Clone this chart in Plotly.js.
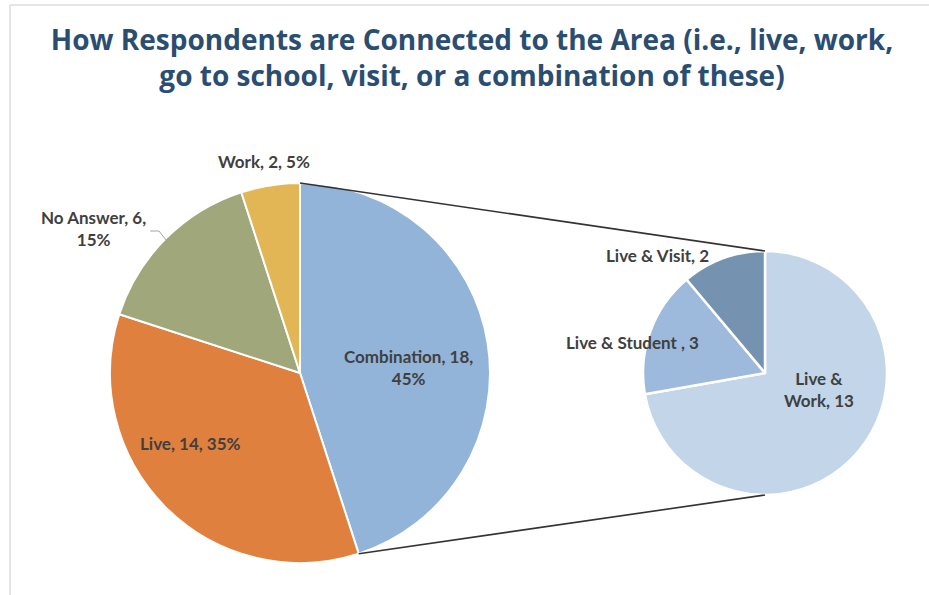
<!DOCTYPE html>
<html>
<head>
<meta charset="utf-8">
<script src="https://cdn.plot.ly/plotly-3.0.1.min.js"></script>
<style>
  html, body { margin: 0; padding: 0; background: #ffffff; }
  #chart { width: 929px; height: 595px; }
</style>
</head>
<body>
<div id="chart"></div>
<script>
// ---- data ----
const mainCategories = ["Combination", "Live", "No Answer", "Work"];
const mainValues = [18, 14, 6, 2];
const mainColors = ["#92B4D8", "#E0803F", "#9FA77B", "#E2B654"];

const subCategories = ["Live & Work", "Live & Student ", "Live & Visit"];
const subValues = [13, 3, 2];
const subColors = ["#C3D5E8", "#9DBADC", "#7592B0"];

const titleText = "How Respondents are Connected to the Area (i.e., live, work,<br>go to school, visit, or a combination of these)";

// ---- geometry (pixels) ----
const W = 929, H = 595;
const MAIN = { cx: 300, cy: 373, r: 190 };
const SUB = { cx: 765, cy: 373, r: 122 };

function domainOf(g) {
  return {
    x: [(g.cx - g.r) / W, (g.cx + g.r) / W],
    y: [(H - (g.cy + g.r)) / H, (H - (g.cy - g.r)) / H]
  };
}
const px = x => x / W, py = y => (H - y) / H;

const mainTotal = mainValues.reduce((a, b) => a + b, 0);
const pct = v => Math.round(100 * v / mainTotal) + "%";

// label texts built from the data
const mainLabelText = [
  `${mainCategories[0]}, ${mainValues[0]},<br>${pct(mainValues[0])}`,
  `${mainCategories[1]}, ${mainValues[1]}, ${pct(mainValues[1])}`,
  `${mainCategories[2]}, ${mainValues[2]},<br>${pct(mainValues[2])}`,
  `${mainCategories[3]}, ${mainValues[3]}, ${pct(mainValues[3])}`
];
const subLabelText = [
  subCategories[0].replace(" & ", " &<br>") + ", " + subValues[0],
  subCategories[1] + ", " + subValues[1],
  subCategories[2] + ", " + subValues[2]
];

// label placement (pixel centres), styling only
const mainLabelPos = [[408, 367], [190, 443], [93, 229], [264, 161]];
const subLabelPos = [[819, 389], [632, 343], [657, 255]];

const labelFont = { family: "Lato, 'Open Sans', sans-serif", size: 17, color: "#404040", weight: "bold" };

const mainTrace = {
  type: "pie",
  labels: mainCategories,
  values: mainValues,
  sort: false,
  direction: "clockwise",
  rotation: 0,
  domain: domainOf(MAIN),
  marker: { colors: mainColors, line: { color: "#ffffff", width: 2 } },
  textinfo: "none",
  showlegend: false,
  hoverinfo: "label+value+percent"
};

const subTrace = {
  type: "pie",
  labels: subCategories,
  values: subValues,
  sort: false,
  direction: "clockwise",
  rotation: 0,
  domain: domainOf(SUB),
  marker: { colors: subColors, line: { color: "#ffffff", width: 2.5 } },
  textinfo: "none",
  showlegend: false,
  hoverinfo: "label+value"
};

const annotations = [];
mainLabelText.forEach((t, i) => annotations.push({
  xref: "paper", yref: "paper", x: px(mainLabelPos[i][0]), y: py(mainLabelPos[i][1]),
  xanchor: "center", yanchor: "middle", text: t, showarrow: false, font: labelFont, align: "center"
}));
subLabelText.forEach((t, i) => annotations.push({
  xref: "paper", yref: "paper", x: px(subLabelPos[i][0]), y: py(subLabelPos[i][1]),
  xanchor: "center", yanchor: "middle", text: t, showarrow: false, font: labelFont, align: "center"
}));

// connector endpoints computed from pie geometry
const theta = 2 * Math.PI * mainValues[0] / mainTotal;
const p1 = [MAIN.cx, MAIN.cy - MAIN.r];
const p2 = [MAIN.cx + MAIN.r * Math.sin(theta), MAIN.cy - MAIN.r * Math.cos(theta)];
const q1 = [SUB.cx, SUB.cy - SUB.r];
const q2 = [SUB.cx, SUB.cy + SUB.r];

const shapes = [
  { type: "line", xref: "paper", yref: "paper", x0: px(p1[0]), y0: py(p1[1]), x1: px(q1[0]), y1: py(q1[1]), line: { color: "#333333", width: 1.6 } },
  { type: "line", xref: "paper", yref: "paper", x0: px(p2[0]), y0: py(p2[1]), x1: px(q2[0]), y1: py(q2[1]), line: { color: "#333333", width: 1.6 } },
  // leader line for the No Answer label
  { type: "path", xref: "paper", yref: "paper",
    path: `M ${px(150)} ${py(231)} L ${px(159)} ${py(231)} L ${px(166)} ${py(240)}`,
    line: { color: "#A6A6A6", width: 1 } },
  // light frame (top and left)
  { type: "line", xref: "paper", yref: "paper", x0: px(10), y0: py(5), x1: 1, y1: py(5), line: { color: "#DCDCDC", width: 1.5 } },
  { type: "line", xref: "paper", yref: "paper", x0: px(10), y0: py(5), x1: px(10), y1: 0, line: { color: "#DCDCDC", width: 1.5 } }
];

const layout = {
  width: W,
  height: H,
  margin: { l: 0, r: 0, t: 0, b: 0 },
  paper_bgcolor: "#ffffff",
  plot_bgcolor: "#ffffff",
  showlegend: false,
  title: {
    text: titleText,
    font: { family: "'Open Sans', Lato, sans-serif", size: 28, color: "#2A4D72", weight: "bold" },
    x: 472 / W,
    xanchor: "center",
    y: 1 - 50 / H,
    yanchor: "top",
    yref: "container"
  },
  shapes: shapes,
  annotations: annotations
};

Plotly.newPlot("chart", [mainTrace, subTrace], layout, { displayModeBar: false, staticPlot: true });
</script>
</body>
</html>
